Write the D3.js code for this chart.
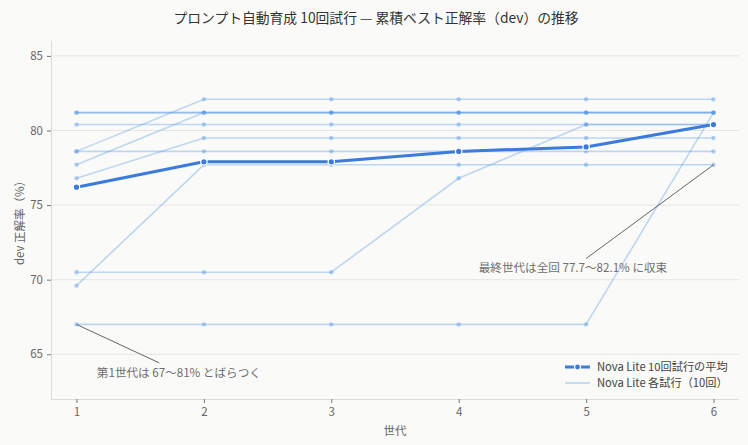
<!DOCTYPE html>
<html>
<head>
<meta charset="utf-8">
<script src="https://cdn.jsdelivr.net/npm/d3@7"></script>
<style>
  html, body { margin: 0; padding: 0; background: #fafaf8; }
  svg { display: block; font-family: "Noto Sans CJK JP", "Noto Sans", sans-serif; }
</style>
</head>
<body>
<svg id="chart" width="748" height="445"></svg>
<script>
// 世代
const generations = [1, 2, 3, 4, 5, 6]
// 各試行の累積ベスト正解率 (%)
const trial01 = [78.6, 82.1, 82.1, 82.1, 82.1, 82.1]
const trial02 = [77.7, 81.2, 81.2, 81.2, 81.2, 81.2]
const trial03 = [76.8, 79.5, 79.5, 79.5, 79.5, 79.5]
const trial04 = [69.6, 77.7, 77.7, 77.7, 77.7, 77.7]
const trial05 = [81.2, 81.2, 81.2, 81.2, 81.2, 81.2]
const trial06 = [81.2, 81.2, 81.2, 81.2, 81.2, 81.2]
const trial07 = [80.4, 80.4, 80.4, 80.4, 80.4, 80.4]
const trial08 = [78.6, 78.6, 78.6, 78.6, 78.6, 78.6]
const trial09 = [70.5, 70.5, 70.5, 76.8, 80.4, 80.4]
const trial10 = [67.0, 67.0, 67.0, 67.0, 67.0, 81.2]
const trials = [trial01, trial02, trial03, trial04, trial05, trial06, trial07, trial08, trial09, trial10]
// 10回試行の平均
const average = [76.2, 77.9, 77.9, 78.6, 78.9, 80.4]
const yTicks = [65, 70, 75, 80, 85]

const titleText = 'プロンプト自動育成 10回試行 — 累積ベスト正解率（dev）の推移'
const legendLabels = ['Nova Lite 10回試行の平均', 'Nova Lite 各試行（10回）']
// 注釈: 指す点 (gen, 値) と文字の位置 (gen, 値)
const noteTexts = ['第1世代は 67〜81% とばらつく', '最終世代は全回 77.7〜82.1% に収束']
const notePoints = [[1, 67.0], [6, 77.7]]
const noteLineEnds = [[1.65, 64.42], [5.0, 71.42]]
const noteTextPos = [[1.16, 63.77], [4.157, 70.79]]

const mLeft = 51, mRight = 739, mTop = 41, mBottom = 399
const avgColor = '#3b7bdb'
const trialColor = '#5b9ae6'

const svg = d3.select('#chart')

svg.append('rect')
  .attr('width', 748)
  .attr('height', 445)
  .attr('fill', '#fafaf8')

const x = d3.scaleLinear().domain([0.8, 6.2]).range([mLeft, mRight])
const y = d3.scaleLinear().domain([62, 86]).range([mBottom, mTop])

// grid
svg.append('g')
  .selectAll('line')
  .data(yTicks)
  .enter().append('line')
  .attr('x1', mLeft)
  .attr('x2', mRight)
  .attr('y1', d => y(d))
  .attr('y2', d => y(d))
  .attr('stroke', '#e5e5e3')
  .attr('stroke-width', 1)

// axes
const yAxis = svg.append('g')
  .attr('transform', `translate(${mLeft}, 0)`)
  .call(d3.axisLeft(y).tickValues(yTicks).tickSize(4).tickPadding(4))
const xAxis = svg.append('g')
  .attr('transform', `translate(0, ${mBottom})`)
  .call(d3.axisBottom(x).tickValues(generations).tickSize(4).tickPadding(5).tickFormat(d3.format('d')))

;[yAxis, xAxis].forEach(ax => {
  ax.select('.domain').attr('stroke', '#dcdcda')
  ax.selectAll('.tick line').attr('stroke', '#777')
  ax.selectAll('.tick text')
    .attr('fill', '#666')
    .style('font-size', '11.5px')
    .style('font-family', '"Noto Sans CJK JP", sans-serif')
})
xAxis.select('.domain').attr('d', `M${mLeft},0.5H${mRight}`)
yAxis.select('.domain').attr('d', `M0.5,${mBottom}V${mTop}`)

const line = d3.line()
  .x((d, i) => x(generations[i]))
  .y(d => y(d))

// trials
const trialG = svg.append('g')
trialG.selectAll('path')
  .data(trials)
  .enter().append('path')
  .attr('d', line)
  .attr('fill', 'none')
  .attr('stroke', trialColor)
  .attr('stroke-opacity', 0.38)
  .attr('stroke-width', 1.6)

trials.forEach(t => {
  trialG.append('g')
    .selectAll('circle')
    .data(t)
    .enter().append('circle')
    .attr('cx', (d, i) => x(generations[i]))
    .attr('cy', d => y(d))
    .attr('r', 2.2)
    .attr('fill', trialColor)
    .attr('fill-opacity', 0.45)
})

// annotations
noteTexts.forEach((t, k) => {
  svg.append('line')
    .attr('x1', x(notePoints[k][0]))
    .attr('y1', y(notePoints[k][1]))
    .attr('x2', x(noteLineEnds[k][0]))
    .attr('y2', y(noteLineEnds[k][1]))
    .attr('stroke', '#555')
    .attr('stroke-width', 0.9)
  svg.append('text')
    .attr('x', x(noteTextPos[k][0]))
    .attr('y', y(noteTextPos[k][1]))
    .attr('dy', '0.35em')
    .attr('fill', '#6e6e6e')
    .style('font-size', '11.6px')
    .text(t)
})

// average
svg.append('path')
  .datum(average)
  .attr('d', line)
  .attr('fill', 'none')
  .attr('stroke', avgColor)
  .attr('stroke-width', 3)
  .attr('stroke-linejoin', 'round')

svg.append('g')
  .selectAll('circle')
  .data(average)
  .enter().append('circle')
  .attr('cx', (d, i) => x(generations[i]))
  .attr('cy', d => y(d))
  .attr('r', 3.2)
  .attr('fill', avgColor)
  .attr('stroke', '#fff')
  .attr('stroke-width', 1.2)

// title and axis labels
svg.append('text')
  .attr('x', 376)
  .attr('y', 23)
  .attr('text-anchor', 'middle')
  .attr('fill', '#333')
  .style('font-size', '13.8px')
  .text(titleText)

svg.append('text')
  .attr('x', (mLeft + mRight) / 2)
  .attr('y', 435)
  .attr('text-anchor', 'middle')
  .attr('fill', '#666')
  .style('font-size', '11.5px')
  .text('世代')

svg.append('text')
  .attr('transform', `translate(24, ${(mTop + mBottom) / 2}) rotate(-90)`)
  .attr('text-anchor', 'middle')
  .attr('fill', '#666')
  .style('font-size', '11.5px')
  .text('dev 正解率（%）')

// legend
const legend = svg.append('g').attr('transform', 'translate(565, 367)')
legend.append('line')
  .attr('x1', 0).attr('x2', 25).attr('y1', 0).attr('y2', 0)
  .attr('stroke', avgColor).attr('stroke-width', 3)
legend.append('circle')
  .attr('cx', 12.5).attr('cy', 0).attr('r', 3)
  .attr('fill', avgColor).attr('stroke', '#fff').attr('stroke-width', 1.2)
legend.append('line')
  .attr('x1', 0).attr('x2', 25).attr('y1', 16).attr('y2', 16)
  .attr('stroke', trialColor).attr('stroke-opacity', 0.4).attr('stroke-width', 1.6)
legend.selectAll('text')
  .data(legendLabels)
  .enter().append('text')
  .attr('x', 32)
  .attr('y', (d, i) => i * 16)
  .attr('dy', '0.35em')
  .attr('fill', '#444')
  .style('font-size', '11.2px')
  .text(d => d)
</script>
</body>
</html>
